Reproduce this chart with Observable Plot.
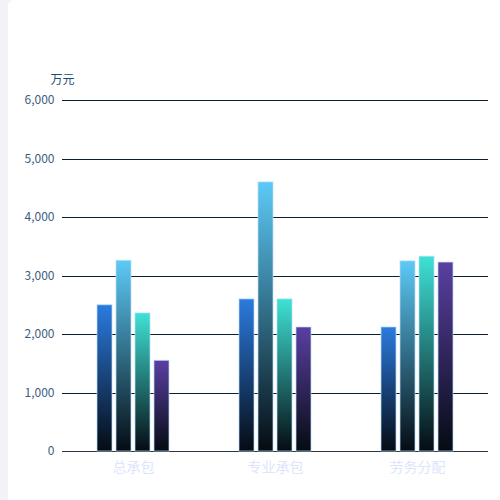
<!DOCTYPE html>
<html>
<head>
<meta charset="utf-8">
<script src="https://cdn.jsdelivr.net/npm/d3@7"></script>
<script src="https://cdn.jsdelivr.net/npm/@observablehq/plot@0.6"></script>
<style>
  body { margin: 0; background: #f2f3f8; }
  #card {
    position: absolute; left: 8px; top: 0; width: 492px; height: 500px;
    background: #fff; border-top-left-radius: 6px; overflow: hidden;
  }
</style>
</head>
<body>
<div id="card"><div id="chart"></div></div>
<script>
// datos (万元)
const categories = ["总承包", "专业承包", "劳务分配"]
const series = ["系列1", "系列2", "系列3", "系列4"]
const serie1 = [2500, 2600, 2120]
const serie2 = [3260, 4600, 3250]
const serie3 = [2360, 2600, 3330]
const serie4 = [1550, 2120, 3230]
const yTicks = [0, 1000, 2000, 3000, 4000, 5000, 6000]

const topColors = ["#2b7be0", "#5ccaf6", "#3fe2d6", "#5a3fa2"]
const bottomColor = "#050b12"

const valores = [serie1, serie2, serie3, serie4]
const data = []
series.forEach((s, i) => {
  categories.forEach((c, j) => data.push({cat: c, ser: s, val: valores[i][j]}))
})

const font = '"Noto Sans CJK SC", "Noto Sans", sans-serif'

let chart = Plot.plot({
  width: 492,
  height: 500,
  marginLeft: 54,
  marginRight: 12,
  marginTop: 100,
  marginBottom: 49,
  style: {fontFamily: font, fontSize: "12px", background: "transparent"},
  fx: {domain: categories, padding: 0},
  x: {domain: series, paddingInner: 0.23, paddingOuter: 1.75, axis: null},
  y: {domain: [0, 6000], axis: null},
  marks: [
    Plot.gridY(yTicks, {stroke: "#0b1f33", strokeOpacity: 1, shapeRendering: "crispEdges"}),
    Plot.ruleY([0], {stroke: "#2b3440", shapeRendering: "crispEdges"}),
    Plot.axisY(yTicks, {
      tickSize: 0, tickPadding: 8, label: null,
      tickFormat: d3.format(","), fill: "#3a5d80"
    }),
    Plot.axisFx({
      anchor: "bottom", tickSize: 0, tickPadding: 11, label: null,
      fill: "#dde5fb", fontSize: 14
    }),
    ...series.map((s, i) => Plot.barY(data.filter(d => d.ser === s), {
      fx: "cat", x: "ser", y: "val",
      fill: `url(#grad${i})`,
      stroke: "#b9defc", strokeOpacity: 0.7, strokeWidth: 1
    })),
    Plot.text(["万元"], {
      frameAnchor: "top-left", dy: -25, textAnchor: "middle",
      fill: "#1f4a78", fontSize: 12, facet: "super"
    })
  ]
})

// gradientes verticales por barra
const defs = d3.select(chart).insert("defs", ":first-child")
topColors.forEach((c, i) => {
  const g = defs.append("linearGradient")
    .attr("id", `grad${i}`)
    .attr("x1", 0).attr("y1", 0).attr("x2", 0).attr("y2", 1)
  g.append("stop").attr("offset", "0%").attr("stop-color", c)
  g.append("stop").attr("offset", "100%").attr("stop-color", bottomColor)
})

d3.select('#chart').append(() => chart)
</script>
</body>
</html>
